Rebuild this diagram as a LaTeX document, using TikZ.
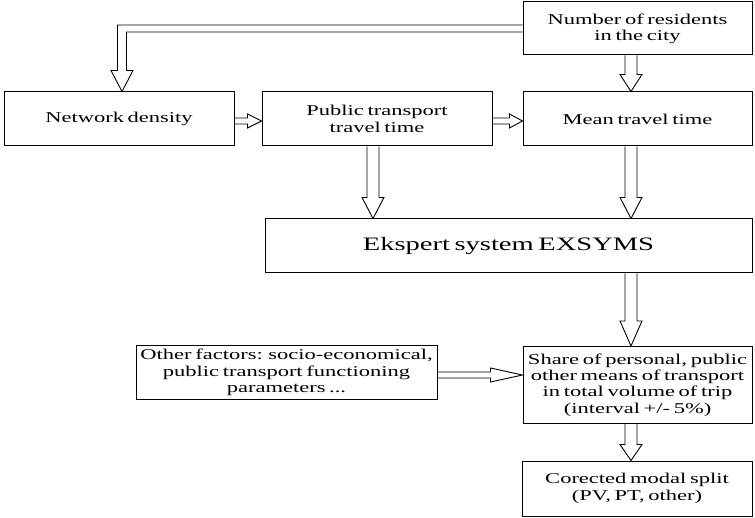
\documentclass[tikz,border=0pt]{standalone}
\usepackage{fontspec}
\setmainfont{Liberation Serif}[FakeStretch=1.5, WordSpace=0.65]
\usetikzlibrary{calc}
\tikzset{
  box/.style={draw, line width=1pt, inner sep=0pt, align=center,
    font=\fontsize{15}{16.3}\selectfont},
  blk/.style={draw, line width=0.9pt, line join=miter},
}
% down block arrow: #1 from, #2 to, #3 column coord, #4 shaft half, #5 head half, #6 head length
\newcommand{\blkdown}[6]{%
  \draw[blk] ($(#1.south -| #3)+(-#4,0)$) -- ($(#2.north -| #3)+(-#4,-#6)$)
    -- ($(#2.north -| #3)+(-#5,-#6)$) -- (#2.north -| #3)
    -- ($(#2.north -| #3)+(#5,-#6)$) -- ($(#2.north -| #3)+(#4,-#6)$)
    -- ($(#1.south -| #3)+(#4,0)$);}
% right block arrow: #1 from, #2 to, #3 row coord, #4 shaft half, #5 head half, #6 head length
\newcommand{\blkright}[6]{%
  \draw[blk] ($(#1.east |- #3)+(0,-#4)$) -- ($(#2.west |- #3)+(-#6,-#4)$)
    -- ($(#2.west |- #3)+(-#6,-#5)$) -- (#2.west |- #3)
    -- ($(#2.west |- #3)+(-#6,#5)$) -- ($(#2.west |- #3)+(-#6,#4)$)
    -- ($(#1.east |- #3)+(0,#4)$);}
\begin{document}
\begin{tikzpicture}[x=1pt, y=-1pt]
\useasboundingbox (0,0) rectangle (755,518);

\node[box, minimum width=229pt, minimum height=53pt] (res) at (637.5,28.5)
  {Number of residents\\in the city};
\node[box, minimum width=230pt, minimum height=54pt] (net) at (119,119)
  {Network density};
\node[box, minimum width=230pt, minimum height=54pt] (ptt) at (377,119)
  {Public transport\\travel time};
\node[box, minimum width=229pt, minimum height=54pt] (mean) at (637.5,119)
  {Mean travel time};
\node[box, minimum width=487pt, minimum height=54pt,
  font=\fontsize{19}{21}\selectfont] (eks) at (508.5,246)
  {Ekspert system EXSYMS};
\node[box, minimum width=301pt, minimum height=54pt] (oth) at (286.5,372.5)
  {Other factors: socio-economical,\\public transport functioning\\parameters ...};
\node[box, minimum width=229pt, minimum height=77pt] (share) at (637.5,385)
  {Share of personal, public\\other means of transport\\in total volume of trip\\(interval +/- 5\%)};
\node[box, minimum width=230pt, minimum height=55pt] (cor) at (637,488.5)
  {Corected modal split\\(PV, PT, other)};

\coordinate (colR) at (631,0);
\coordinate (colM) at (373,0);
\coordinate (colL) at (122,0);
\coordinate (rowA) at (0,121);
\coordinate (rowB) at (0,375);

% residents -> network density (bent)
\draw[blk] ($(res.west)+(0,-3.5)$) -- ($(res.west -| colL)+(-4.5,-3.5)$)
  -- ($(net.north -| colL)+(-4.5,-21)$) -- ($(net.north -| colL)+(-11,-21)$)
  -- (net.north -| colL) -- ($(net.north -| colL)+(11,-21)$)
  -- ($(net.north -| colL)+(4.5,-21)$) -- ($(res.west -| colL)+(4.5,3.5)$)
  -- ($(res.west)+(0,3.5)$);

\blkdown{res}{mean}{colR}{6}{11}{17}
\blkdown{ptt}{eks}{colM}{6}{11}{21}
\blkdown{mean}{eks}{colR}{6}{11}{21}
\blkdown{eks}{share}{colR}{6}{11}{25}
\blkdown{share}{cor}{colR}{6}{11}{16}

\blkright{net}{ptt}{rowA}{3}{7}{14}
\blkright{ptt}{mean}{rowA}{3}{7}{13}
\blkright{oth}{share}{rowB}{3}{7}{32}
\end{tikzpicture}
\end{document}
